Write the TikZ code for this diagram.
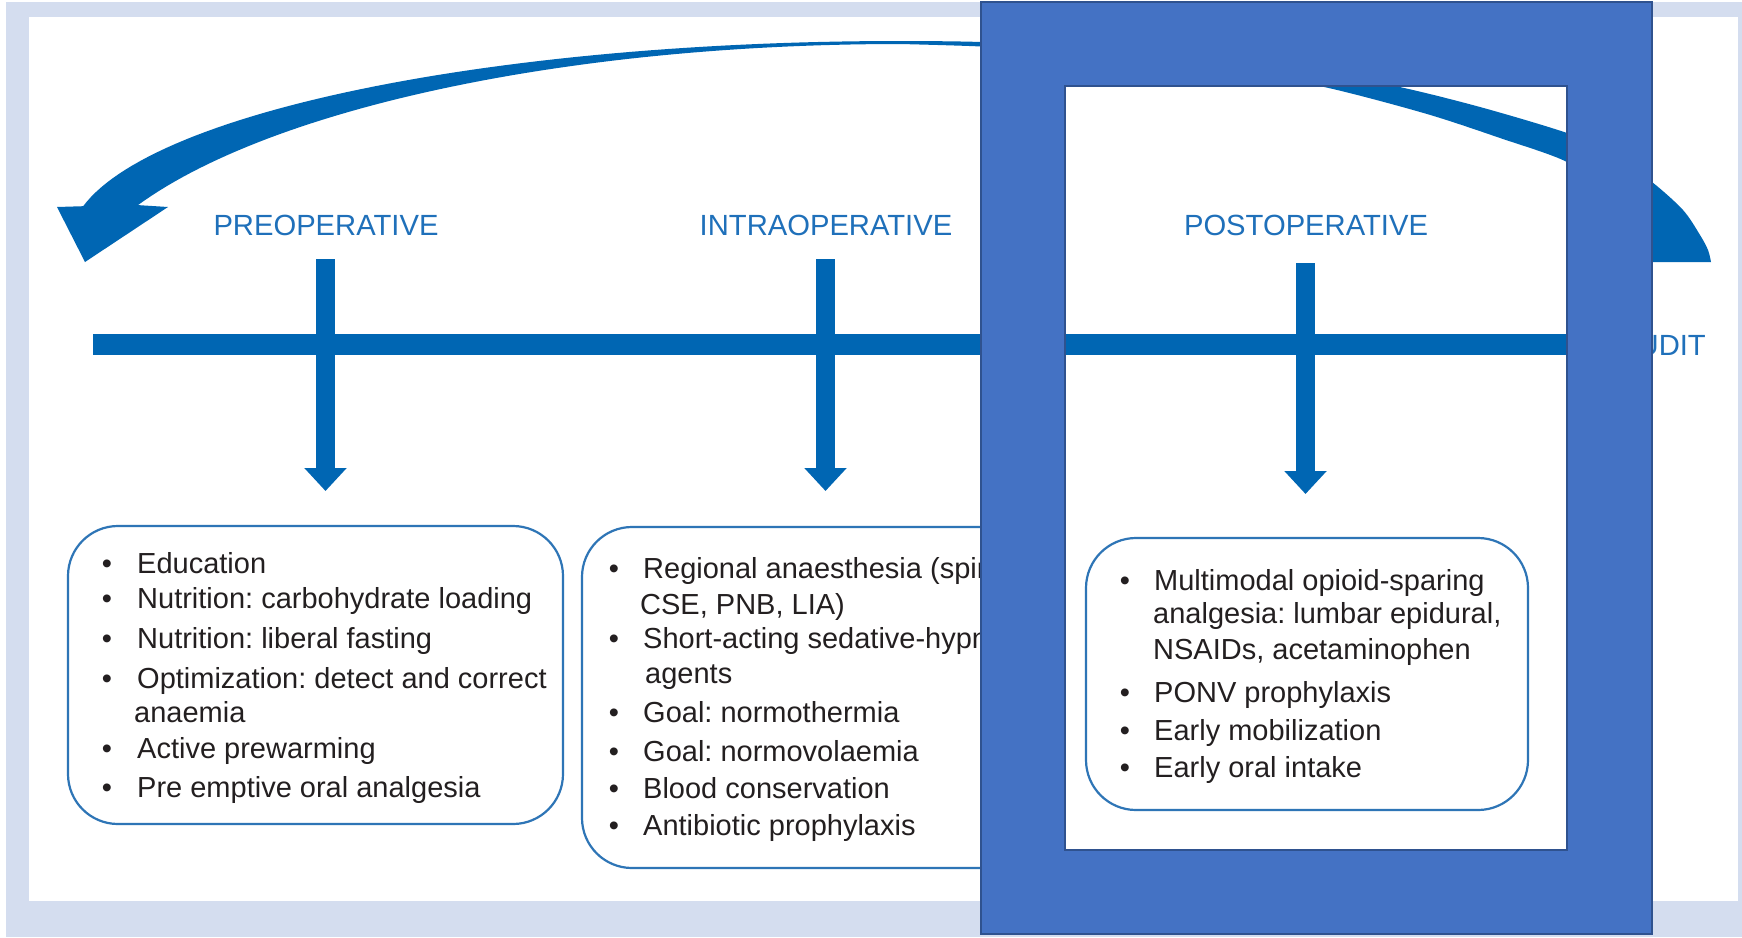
\documentclass[tikz,border=0pt]{standalone}
\usepackage{fontspec}
\setmainfont{Liberation Sans}
\usetikzlibrary{arrows.meta}
\frenchspacing
\definecolor{bgband}{RGB}{212,221,239}
\definecolor{arrowblue}{RGB}{0,102,179}
\definecolor{headblue}{RGB}{31,112,186}
\definecolor{boxblue}{RGB}{46,117,182}
\definecolor{txt}{RGB}{35,31,32}
\definecolor{frameblue}{RGB}{68,114,196}
\definecolor{framedark}{RGB}{47,82,143}
\newcommand\myitem[5]{\node[bul] (#1b) at (#2,#4) {•}; \node[item] (#1) at (#3,#4) {#5};}
\newcommand\mycont[4]{\node[item] (#1) at (#2,#3) {#4};}
\begin{document}
\begin{tikzpicture}[x=1pt,y=-1pt,
  heading/.style={text=headblue, font=\fontsize{29.2}{34}\selectfont, anchor=base, inner sep=0},
  item/.style={text=txt, font=\fontsize{29}{34}\selectfont, anchor=base west, inner sep=0},
  bul/.style={text=txt, font=\fontsize{29}{34}\selectfont, anchor=base, inner sep=0},
  roundbox/.style={draw=boxblue, line width=2.2pt, rounded corners=50pt, inner sep=0},
  blockarrow/.style={arrowblue, line width=19pt, -{Triangle[width=41pt,length=23pt]}}]
\useasboundingbox (0,0) rectangle (1742,937);
% page background
\fill[bgband] (6,2) rectangle (1742,937);
\fill[white] (29,17) rectangle (1738,901);
% big curved return arrow
\fill[arrowblue] (57,207) -- (83.1,206.2)
  -- plot[domain=169.8:90, samples=60, variable=\t] ({900+830*cos(\t)},{241.8-200.8*sin(\t)})
  -- plot[smooth] coordinates {(900,41) (981,42) (1100,48) (1200,56) (1300,69) (1395,86) (1480,107) (1567,133) (1610,152) (1652,182) (1683,210) (1700,235) (1708,250) (1711,262)}
  -- (1640,262)
  -- plot[smooth] coordinates {(1640,262) (1628,225) (1605,192) (1567,162) (1500,138) (1427,114) (1333,89) (1250,73) (1150,61) (1050,51.5) (981,46.5) (900,44)}
  -- plot[domain=90:155.8, samples=60, variable=\t] ({900+835.5*cos(\t)},{317-273*sin(\t)})
  -- (168,207) -- (85,262) -- cycle;
% timeline bar
\coordinate (barL) at (93,344.5);
\coordinate (barR) at (1620,344.5);
\draw[arrowblue, line width=21pt] (barL) -- (barR);
% headings
\node[heading] (pre) at (326,235) {PREOPERATIVE};
\node[heading] (intra) at (826,235) {INTRAOPERATIVE};
\node[heading] (post) at (1306,235) {POSTOPERATIVE};
\node[heading, anchor=base east] (audit) at (1706,355) {AUDIT};
% vertical arrows
\coordinate (a1s) at (325.5,259); \coordinate (a1e) at (325.5,491);
\coordinate (a2s) at (825.5,259); \coordinate (a2e) at (825.5,491);
\coordinate (a3s) at (1305.5,263); \coordinate (a3e) at (1305.5,494);
\draw[blockarrow] (a1s) -- (a1e);
\draw[blockarrow] (a2s) -- (a2e);
\draw[blockarrow] (a3s) -- (a3e);
% boxes
\node[roundbox, minimum width=495pt, minimum height=298pt] (box1) at (315.5,675) {};
\node[roundbox, minimum width=458pt, minimum height=341pt] (box2) at (811,697.5) {};
\node[roundbox, minimum width=442pt, minimum height=272pt] (box3) at (1307,674) {};
% box 1 text
\myitem{p1}{107}{137}{573}{Education}
\myitem{p2}{107}{137}{608}{Nutrition: carbohydrate loading}
\myitem{p3}{107}{137}{648}{Nutrition: liberal fasting}
\myitem{p4}{107}{137}{688}{Optimization: detect and correct}
\mycont{p4c}{134}{722}{anaemia}
\myitem{p5}{107}{137}{758}{Active prewarming}
\myitem{p6}{107}{137}{797}{Pre emptive oral analgesia}
% box 2 text
\myitem{i1}{614}{643}{578}{Regional anaesthesia (spinal,}
\mycont{i1c}{640}{614}{CSE, PNB, LIA)}
\myitem{i2}{614}{643}{648}{Short-acting sedative-hypnotic}
\mycont{i2c}{645}{683}{agents}
\myitem{i3}{614}{643}{722}{Goal: normothermia}
\myitem{i4}{614}{643}{761}{Goal: normovolaemia}
\myitem{i5}{614}{643}{798}{Blood conservation}
\myitem{i6}{614}{643}{835}{Antibiotic prophylaxis}
% box 3 text
\myitem{o1}{1125}{1154}{590}{Multimodal opioid-sparing}
\mycont{o1c}{1153}{623}{analgesia: lumbar epidural,}
\mycont{o1d}{1153}{659}{NSAIDs, acetaminophen}
\myitem{o2}{1125}{1154}{702}{PONV prophylaxis}
\myitem{o3}{1125}{1154}{740}{Early mobilization}
\myitem{o4}{1125}{1154}{777}{Early oral intake}
% overlay frame
\fill[frameblue, even odd rule] (981,2) rectangle (1652,934) (1065,86) rectangle (1567,850);
\draw[framedark, line width=1.5pt] (981,2) rectangle (1652,934);
\draw[framedark, line width=1.5pt] (1065,86) rectangle (1567,850);
\end{tikzpicture}
\end{document}
